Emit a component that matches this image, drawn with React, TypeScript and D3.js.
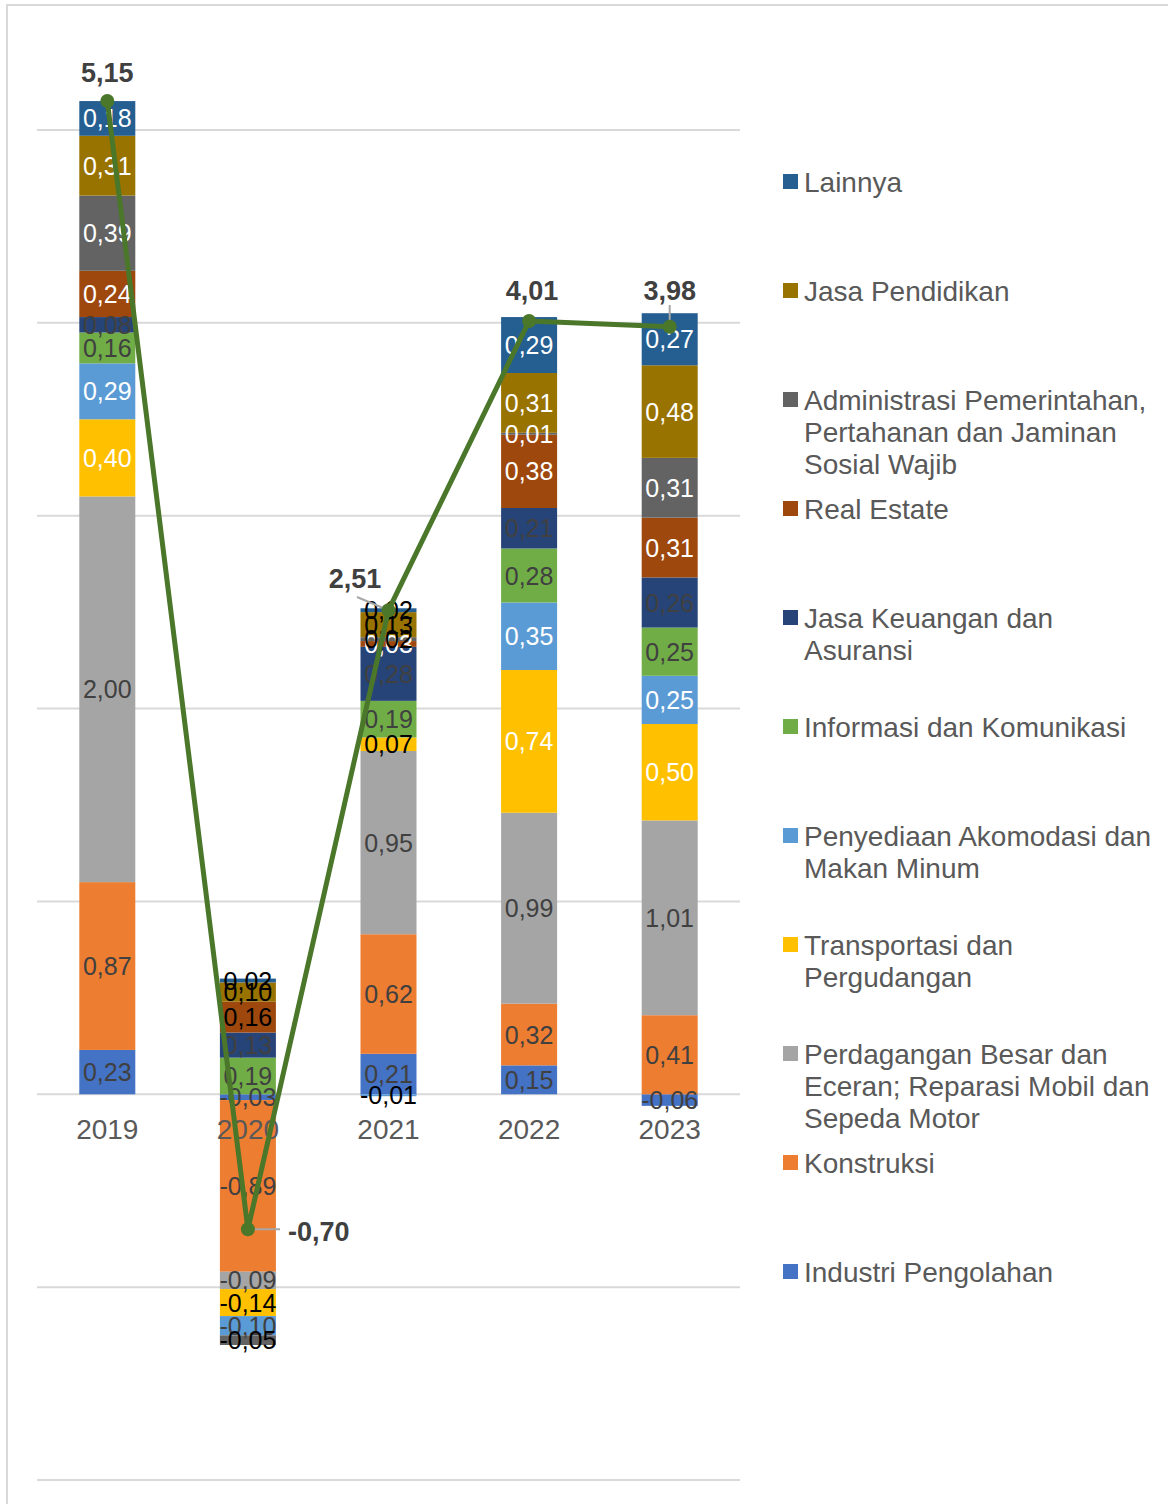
import React from "react";
import * as d3 from "d3";

const years = ["2019", "2020", "2021", "2022", "2023"];

const seriesNames = [
  "Industri Pengolahan",
  "Konstruksi",
  "Perdagangan Besar dan Eceran; Reparasi Mobil dan Sepeda Motor",
  "Transportasi dan Pergudangan",
  "Penyediaan Akomodasi dan Makan Minum",
  "Informasi dan Komunikasi",
  "Jasa Keuangan dan Asuransi",
  "Real Estate",
  "Administrasi Pemerintahan, Pertahanan dan Jaminan Sosial Wajib",
  "Jasa Pendidikan",
  "Lainnya",
];

const industri = [0.23, -0.03, 0.21, 0.15, -0.06];
const konstruksi = [0.87, -0.89, 0.62, 0.32, 0.41];
const perdagangan = [2.0, -0.09, 0.95, 0.99, 1.01];
const transportasi = [0.4, -0.14, 0.07, 0.74, 0.5];
const akomodasi = [0.29, -0.1, -0.01, 0.35, 0.25];
const informasi = [0.16, 0.19, 0.19, 0.28, 0.25];
const keuangan = [0.08, 0.13, 0.28, 0.21, 0.26];
const realEstate = [0.24, 0.16, 0.03, 0.38, 0.31];
const administrasi = [0.39, -0.05, 0.02, 0.01, 0.31];
const pendidikan = [0.31, 0.1, 0.13, 0.31, 0.48];
const lainnya = [0.18, 0.02, 0.02, 0.29, 0.27];

const totals = [5.15, -0.7, 2.51, 4.01, 3.98];

const seriesValues = [
  industri, konstruksi, perdagangan, transportasi, akomodasi, informasi,
  keuangan, realEstate, administrasi, pendidikan, lainnya,
];

const colors = [
  "#4472C4", "#ED7D31", "#A5A5A5", "#FFC000", "#5B9BD5", "#70AD47",
  "#264478", "#9E480E", "#636363", "#997300", "#255E91",
];

// label colours: W = white, G = dark gray, K = black  (per series, per year)
const labelColorCodes = [
  ["G", "G", "G", "G", "G"],
  ["G", "G", "G", "G", "G"],
  ["G", "G", "G", "G", "G"],
  ["W", "K", "K", "W", "W"],
  ["W", "G", "K", "W", "W"],
  ["G", "G", "G", "G", "G"],
  ["G", "G", "G", "G", "G"],
  ["W", "K", "W", "W", "W"],
  ["W", "K", "K", "W", "W"],
  ["W", "K", "K", "W", "W"],
  ["W", "K", "K", "W", "W"],
];
const codeColor: Record<string, string> = { W: "#ffffff", G: "#404040", K: "#000000" };

const legendLines = [
  ["Lainnya"],
  ["Jasa Pendidikan"],
  ["Administrasi Pemerintahan,", "Pertahanan dan Jaminan", "Sosial Wajib"],
  ["Real Estate"],
  ["Jasa Keuangan dan", "Asuransi"],
  ["Informasi dan Komunikasi"],
  ["Penyediaan Akomodasi dan", "Makan Minum"],
  ["Transportasi dan", "Pergudangan"],
  ["Perdagangan Besar dan", "Eceran; Reparasi Mobil dan", "Sepeda Motor"],
  ["Konstruksi"],
  ["Industri Pengolahan"],
];
const legendColors = [...colors].reverse();

const gridTicks = [-2, -1, 0, 1, 2, 3, 4, 5];

const fmt = (v: number) => v.toFixed(2).replace(".", ",");

export default function App() {
  const W = 1168;
  const H = 1504;
  const font = "'Liberation Sans', Arial, sans-serif";

  const x = d3.scaleBand<string>().domain(years).range([37, 740]).paddingInner(0).paddingOuter(0);
  const y = d3.scaleLinear().domain([-2, 5]).range([1480, 130]);
  const barW = 56;
  const cx = (yr: string) => (x(yr) as number) + x.bandwidth() / 2;

  const table = years.map((yr, i) => {
    const row: Record<string, any> = { year: yr };
    seriesNames.forEach((s, k) => (row[s] = seriesValues[k][i]));
    return row;
  });
  const stacked = d3.stack<any>().keys(seriesNames).offset(d3.stackOffsetDiverging)(table);

  const line = d3
    .line<number>()
    .x((_, i) => cx(years[i]))
    .y((v) => y(v));

  const lineColor = "#4a772a";

  return (
    <svg
      width={W}
      height={H}
      style={{ position: "absolute", left: 0, top: 0, background: "#fff" }}
      fontFamily={font}
    >
      <rect x={0} y={0} width={W} height={H} fill="#fff" />
      <rect x={7} y={5} width={1300} height={1700} fill="none" stroke="#d9d9d9" strokeWidth={2} />
      {gridTicks.map((t) => (
        <line key={t} x1={37} x2={740} y1={y(t)} y2={y(t)} stroke="#d9d9d9" strokeWidth={2} />
      ))}
      {stacked.map((layer, k) => (
        <g key={layer.key} fill={colors[k]}>
          {layer.map((d, i) => {
            const y0 = y(Math.max(d[0], d[1]));
            const y1 = y(Math.min(d[0], d[1]));
            return (
              <rect
                key={i}
                x={cx(years[i]) - barW / 2}
                y={y0}
                width={barW}
                height={Math.max(0, y1 - y0)}
              />
            );
          })}
        </g>
      ))}
      {stacked.map((layer, k) => (
        <g key={"l" + layer.key} fontSize={25} textAnchor="middle">
          {layer.map((d, i) => {
            const v = seriesValues[k][i];
            const ym = y((d[0] + d[1]) / 2);
            return (
              <text
                key={i}
                x={cx(years[i])}
                y={ym}
                dy="0.36em"
                fill={codeColor[labelColorCodes[k][i]]}
              >
                {fmt(v)}
              </text>
            );
          })}
        </g>
      ))}
      {years.map((yr) => (
        <text key={yr} x={cx(yr)} y={1129} dy="0.36em" fontSize={28} fill="#595959" textAnchor="middle">
          {yr}
        </text>
      ))}
      {/* leader lines */}
      <line x1={cx(years[1])} y1={y(totals[1])} x2={280} y2={y(totals[1])} stroke="#a6a6a6" strokeWidth={2} />
      <line x1={357} y1={597} x2={cx(years[2])} y2={y(totals[2])} stroke="#a6a6a6" strokeWidth={2} />
      <line x1={cx(years[4])} y1={305} x2={cx(years[4])} y2={y(totals[4])} stroke="#a6a6a6" strokeWidth={2} />
      <path d={line(totals) as string} fill="none" stroke={lineColor} strokeWidth={5} strokeLinejoin="round" />
      {totals.map((v, i) => (
        <circle key={i} cx={cx(years[i])} cy={y(v)} r={7} fill={lineColor} />
      ))}
      {/* total labels */}
      <g fontSize={27} fontWeight="bold" fill="#404040">
        <text x={cx(years[0])} y={72} dy="0.36em" textAnchor="middle">{fmt(totals[0])}</text>
        <text x={288} y={1231} dy="0.36em" textAnchor="start">{fmt(totals[1])}</text>
        <text x={355} y={578} dy="0.36em" textAnchor="middle">{fmt(totals[2])}</text>
        <text x={cx(years[3]) + 3} y={290} dy="0.36em" textAnchor="middle">{fmt(totals[3])}</text>
        <text x={cx(years[4])} y={290} dy="0.36em" textAnchor="middle">{fmt(totals[4])}</text>
      </g>
      {/* legend */}
      {legendLines.map((lines, i) => {
        const y0 = 182 + i * 109;
        return (
          <g key={i}>
            <rect x={783} y={y0 - 8} width={15} height={15} fill={legendColors[i]} />
            {lines.map((ln, j) => (
              <text key={j} x={804} y={y0 + j * 32} dy="0.36em" fontSize={28} fill="#595959">
                {ln}
              </text>
            ))}
          </g>
        );
      })}
    </svg>
  );
}
